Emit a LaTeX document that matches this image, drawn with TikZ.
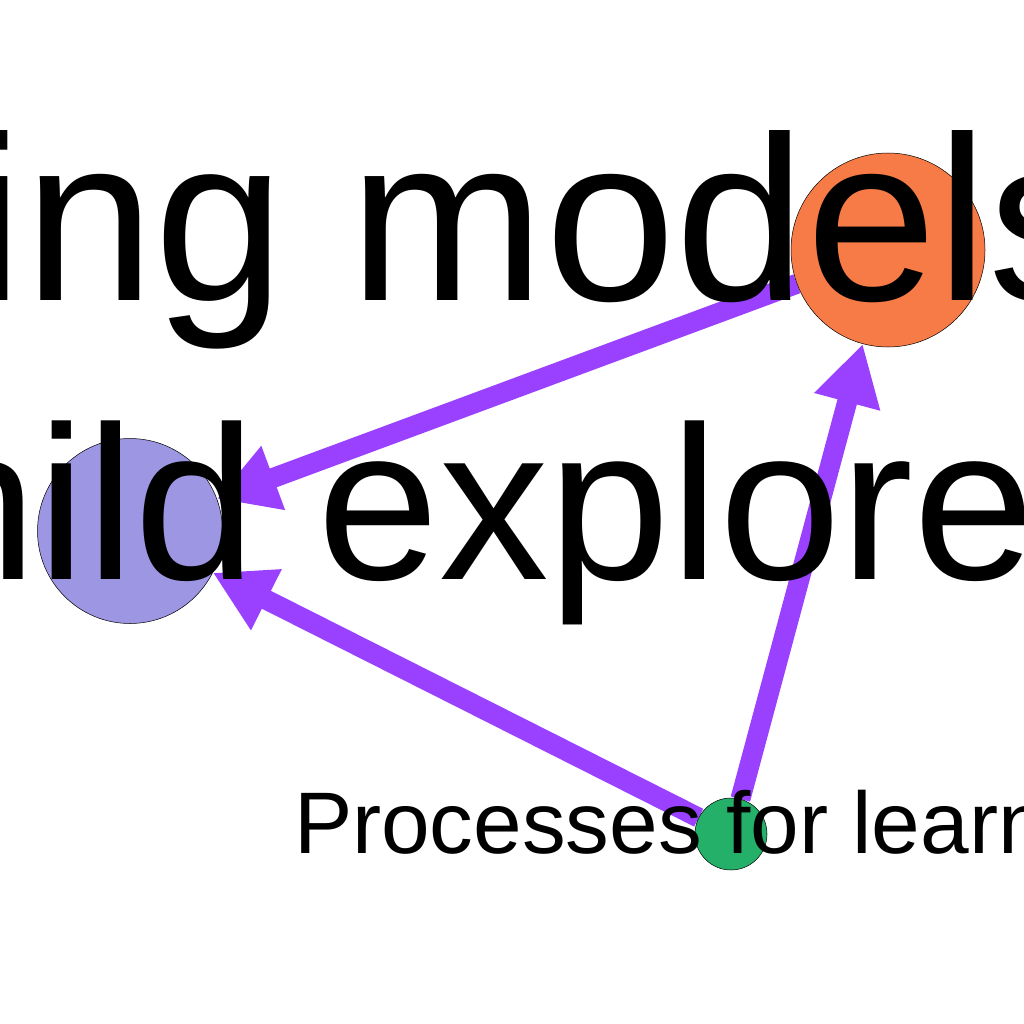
\documentclass[tikz,border=0pt]{standalone}
\usepackage{fontspec}
\setmainfont{Liberation Sans}
\usepackage{tikz}
\usetikzlibrary{arrows.meta,backgrounds,positioning}
\definecolor{netArrow}{HTML}{9A40FF}
\definecolor{netOrange}{HTML}{F77B46}
\definecolor{netLilac}{HTML}{9C96E3}
\definecolor{netGreen}{HTML}{25B06A}
\tikzset{
  net diagram/.style={x=1pt,y=-1pt},
  net circle/.style={circle, draw=black, line width=0.5pt, inner sep=0pt},
  net arrow/.style={-{Triangle[length=60pt,width=64pt]}, draw=netArrow,
    line width=20pt},
  net label/.style={inner sep=0pt, outer sep=0pt, anchor=base west,
    text=black}
}

\begin{document}
\begin{tikzpicture}[net diagram]
\useasboundingbox (0,0) rectangle (1024,1024);
\clip (0,0) rectangle (1024,1024);
\node[net circle,fill=netOrange,minimum size=194pt] (models) at (888,250) {};
\node[net circle,fill=netLilac,minimum size=185pt] (child) at (130,531) {};
\node[net circle,fill=netGreen,minimum size=72pt] (process) at (731,834) {};
\begin{scope}[on background layer]
\draw[net arrow] (models) -- (child);
\draw[net arrow] (process) -- (child);
\draw[net arrow] (process) -- (models);
\end{scope}
\node[net label,font=\fontsize{234.6}{240}\selectfont] (modelstext) at (-28,300) {ing models};
\node[net label,font=\fontsize{219}{224}\selectfont] (childtext) at (-84,579) {hild explore};
\node[net label,font=\fontsize{87.4}{90}\selectfont] (processtext) at (294,853) {Processes for learn};
\end{tikzpicture}
\end{document}
